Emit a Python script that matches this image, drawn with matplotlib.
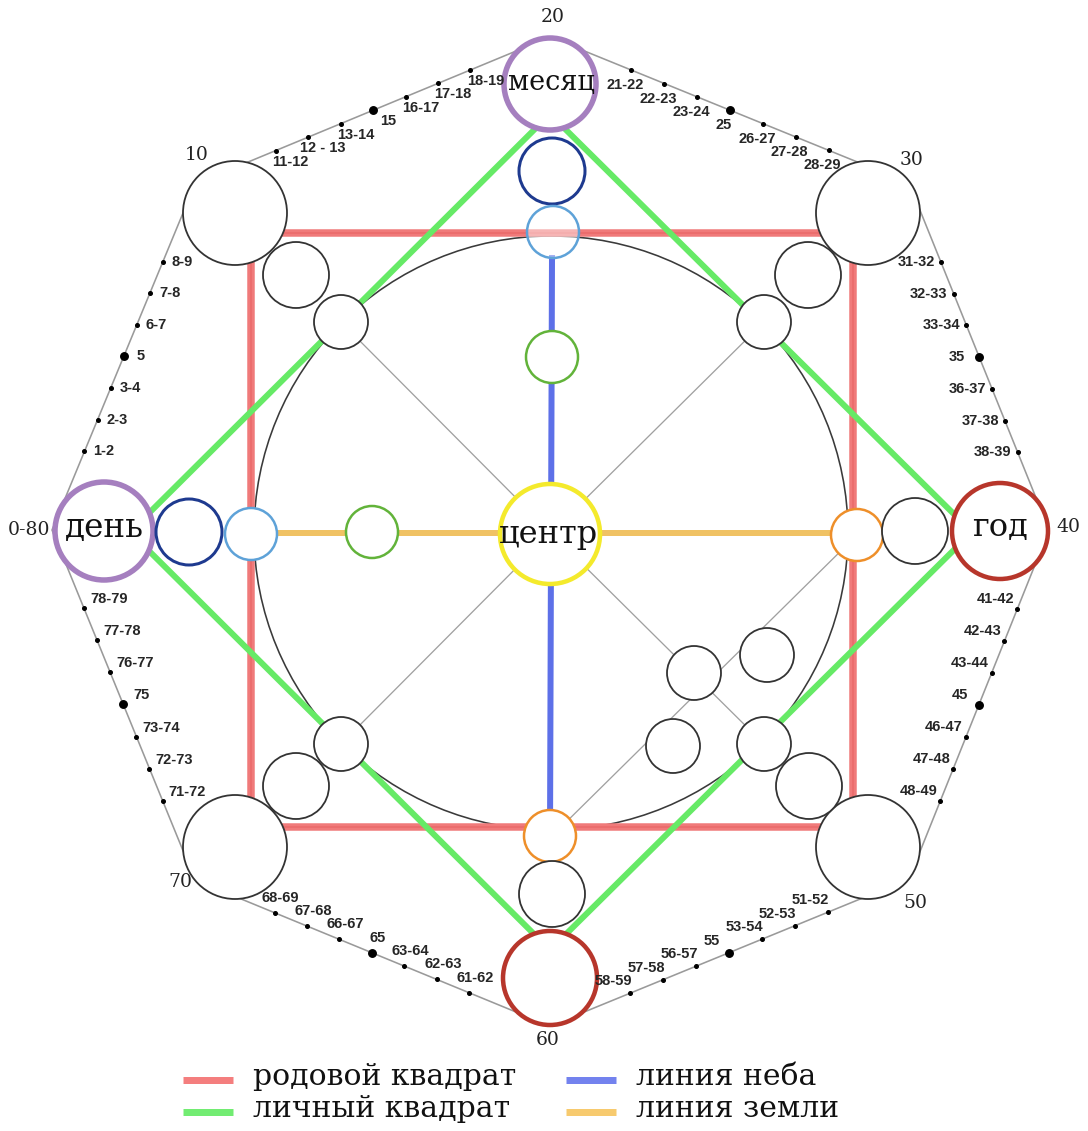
import matplotlib
matplotlib.use('Agg')
import matplotlib.pyplot as plt
from matplotlib.patches import Circle
import numpy as np

# ---------------- data (texts) ----------------
labels_e1 = ['11-12', '12 - 13', '13-14', '15', '16-17', '17-18', '18-19']
labels_e2 = ['21-22', '22-23', '23-24', '25', '26-27', '27-28', '28-29']
labels_e3 = ['31-32', '32-33', '33-34', '35', '36-37', '37-38', '38-39']
labels_e4 = ['41-42', '42-43', '43-44', '45', '46-47', '47-48', '48-49']
labels_e5 = ['51-52', '52-53', '53-54', '55', '56-57', '57-58', '58-59']
labels_e6 = ['61-62', '62-63', '63-64', '65', '66-67', '67-68', '68-69']
labels_e7 = ['71-72', '72-73', '73-74', '75', '76-77', '77-78', '78-79']
labels_e8 = ['1-2', '2-3', '3-4', '5', '6-7', '7-8', '8-9']
vertex_numbers = ['20', '30', '40', '50', '60', '70', '0-80', '10']
circle_names = ['месяц', 'день', 'год', 'центр']
legend_labels = ['родовой квадрат', 'личный квадрат', 'линия неба', 'линия земли']
legend_colors = ['#f47e7e', '#72ec72', '#7382ee', '#f7ca6e']

# ---------------- figure ----------------
W, H = 1088, 1131
fig = plt.figure(figsize=(W / 100, H / 100), dpi=100)
ax = fig.add_axes([0, 0, 1, 1])
ax.set_xlim(0, W)
ax.set_ylim(H, 0)
ax.axis('off')
P = 0.72  # points per pixel

SERIF = 'DejaVu Serif'
SANS = 'Liberation Sans'

# octagon vertices (clockwise from top)
V = np.array([(550, 37), (909, 183), (1049, 530), (909, 879),
              (550, 1026), (195, 880), (52, 530), (195, 184)], float)
oct_closed = np.vstack([V, V[:1]])
ax.plot(oct_closed[:, 0], oct_closed[:, 1], color='#9a9a9a', lw=1.6 * P, zorder=1)

# edges with age marks: (start vertex, end vertex, labels, dx, dy, ha)
edges = [
    (7, 0, labels_e1, 15, 11, 'center'),
    (0, 1, labels_e2, -6, 15, 'center'),
    (1, 2, labels_e3, -6, 0, 'right'),
    (2, 3, labels_e4, -3, -10, 'right'),
    (3, 4, labels_e5, -17, -12, 'center'),
    (4, 5, labels_e6, 6, -15, 'center'),
    (5, 6, labels_e7, 6, -9, 'left'),
    (6, 7, labels_e8, 9, 0, 'left'),
]
ts = 0.227 + 0.0915 * np.arange(7)
for a, b, labs, dx, dy, ha in edges:
    A, B = V[a], V[b]
    for k, (t, lab) in enumerate(zip(ts, labs)):
        p = A + (B - A) * t
        big = (k == 3)
        ax.plot(p[0], p[1], 'o', ms=(7.5 if big else 3.6) * P, color='black', zorder=3)
        extra = 0
        if big and ha == 'right':
            extra = -8
        if big and ha == 'left':
            extra = 4
        ax.text(p[0] + dx + extra, p[1] + dy, lab, ha=ha, va='center',
                fontsize=10.5, fontweight='bold', family=SANS, color='#262626', zorder=6)

# vertex numbers
vn_pos = [(553, 17), (912, 160), (1068, 527), (915, 903),
          (548, 1040), (180, 882), (29, 530), (197, 155)]
for (x, y), s in zip(vn_pos, vertex_numbers):
    ax.text(x, y, s, ha='center', va='center', fontsize=13.5, family=SERIF, color='#222222', zorder=6)

# inner big circle
C = (551, 533)
ax.add_patch(Circle(C, 297, fill=False, ec='#3a3a3a', lw=1.6 * P, zorder=2))

# thin grey diagonals
diag_ends = [(341, 322), (764, 322), (341, 744), (764, 744)]
for x, y in diag_ends:
    ax.plot([C[0], x], [C[1], y], color='#a0a0a0', lw=1.3 * P, zorder=2)
ax.plot([857, 550], [535, 838], color='#a0a0a0', lw=1.3 * P, zorder=2)

# red square (родовой квадрат)
sq = np.array([(251, 233), (853, 233), (853, 827), (251, 827), (251, 233)])
ax.plot(sq[:, 0], sq[:, 1], color='#f07a7a', lw=7.5 * P, zorder=2.5, solid_joinstyle='miter')
ax.plot(sq[:, 0], sq[:, 1], color='#e86565', lw=2 * P, zorder=2.6, alpha=0.6)

# green diamond (личный квадрат)
dm = np.array([(550, 114), (972, 532), (550, 950), (130, 532), (550, 114)])
ax.plot(dm[:, 0], dm[:, 1], color='#66ea66', lw=6 * P, zorder=2.7)

# sky line (blue) and earth line (orange)
ax.plot([552, 550], [258, 838], color='#5d70e8', lw=6 * P, zorder=2.8)
ax.plot([251, 857], [533, 533], color='#f0c264', lw=6 * P, zorder=2.8)

# circles: (x, y, r, edgecolor, lw px)
PURPLE, NAVY, LBLUE, GREEN = '#a57fbf', '#1e3a8f', '#5ea2d8', '#62b33a'
ORANGE, YELLOW, DRED, BLACK = '#ee8f2a', '#f4ea2c', '#b7362b', '#333333'
circles = [
    (550, 84, 46, PURPLE, 5.5),
    (552, 171, 33, NAVY, 3),
    (552, 357, 26, GREEN, 2.5),
    (550, 534, 50, YELLOW, 4.5),
    (104, 531, 49, PURPLE, 5.5),
    (189, 532, 33, NAVY, 3),
    (251, 534, 26, LBLUE, 2.5),
    (372, 532, 26, GREEN, 2.5),
    (857, 535, 26, ORANGE, 2.5),
    (915, 531, 33, BLACK, 1.8),
    (1000, 531, 48, DRED, 4.5),
    (550, 836, 26, ORANGE, 2.5),
    (552, 894, 33, BLACK, 1.8),
    (550, 978, 47, DRED, 4.5),
    (235, 213, 52, BLACK, 1.8), (868, 213, 52, BLACK, 1.8),
    (868, 847, 52, BLACK, 1.8), (235, 847, 52, BLACK, 1.8),
    (296, 275, 33, BLACK, 1.8), (808, 275, 33, BLACK, 1.8),
    (296, 786, 33, BLACK, 1.8), (809, 786, 33, BLACK, 1.8),
    (341, 322, 27, BLACK, 1.8), (764, 322, 27, BLACK, 1.8),
    (341, 744, 27, BLACK, 1.8), (764, 744, 27, BLACK, 1.8),
    (694, 673, 27, BLACK, 1.8), (767, 655, 27, BLACK, 1.8), (673, 746, 27, BLACK, 1.8),
]
for x, y, r, ec, lw in circles:
    ax.add_patch(Circle((x, y), r, fc='white', ec=ec, lw=lw * P, zorder=4))
# top light-blue circle is see-through
ax.add_patch(Circle((553, 232), 26, fc=(1, 1, 1, 0.45), ec=LBLUE, lw=2.5 * P, zorder=4))

# names inside circles
name_pos = [(551, 83, 19.5), (104, 528, 23.5), (1000, 527, 23), (549, 534, 23)]
for (x, y, fs), s in zip(name_pos, circle_names):
    ax.text(x, y, s, ha='center', va='center', fontsize=fs, family=SERIF, color='#111111', zorder=7)

# legend
leg_pos = [(183, 1080), (183, 1112), (566, 1080), (566, 1112)]
for (x, y), lab, col in zip(leg_pos, legend_labels, legend_colors):
    ax.plot([x, x + 50], [y, y], color=col, lw=7 * P, solid_capstyle='butt', zorder=5)
    ax.text(x + 70, y - 3, lab, ha='left', va='center', fontsize=21.5, family=SERIF,
            color='#111111', zorder=6)

fig.savefig('out.png', dpi=100)
